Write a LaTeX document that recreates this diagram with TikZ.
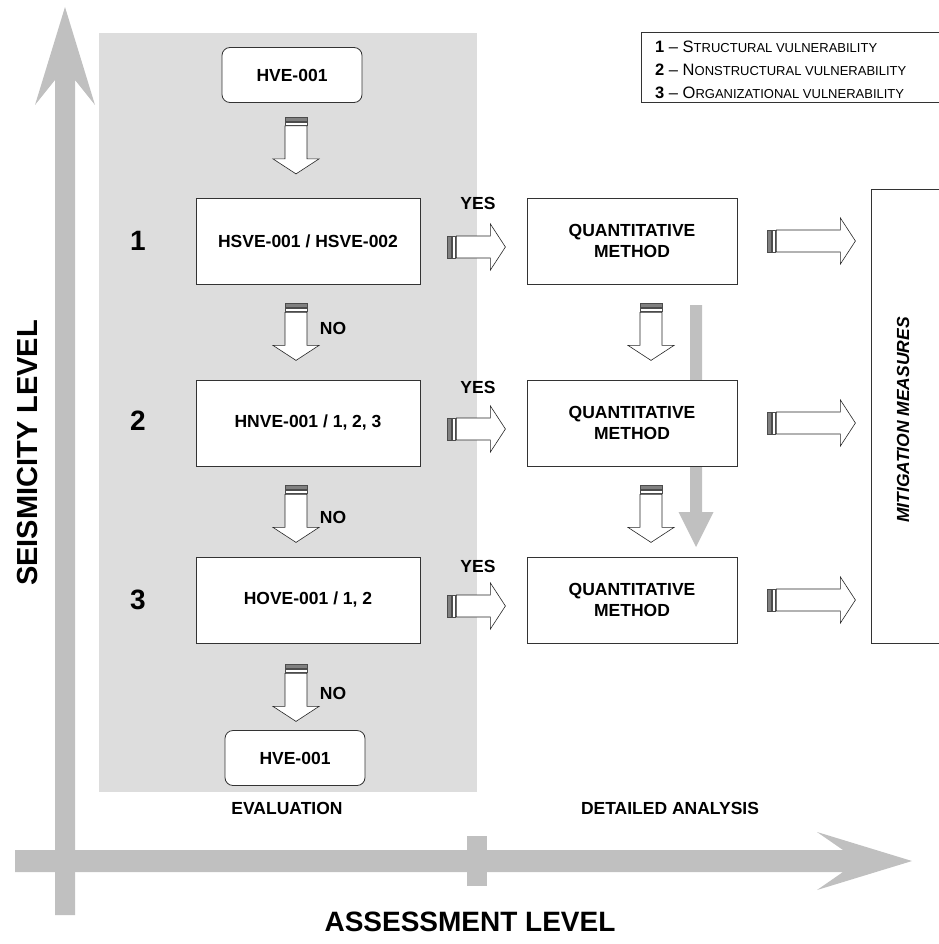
\documentclass[tikz,border=0pt]{standalone}
\usepackage{fontspec}
\setmainfont{Liberation Sans}
\usetikzlibrary{calc}
\definecolor{axisgray}{HTML}{C0C0C0}
\definecolor{bandgray}{HTML}{DDDDDD}
\definecolor{stripegray}{HTML}{808080}
\newcommand{\bigsmall}[2]{{\fontsize{16.5}{18}\selectfont #1}{\fontsize{13}{18}\selectfont #2}}
\tikzset{
  box/.style={draw=black!80, line width=0.8pt, fill=white, minimum width=224pt, minimum height=86pt,
    align=center, font=\fontsize{17.5}{21}\selectfont\bfseries, inner sep=0pt},
  rbox/.style={box, rounded corners=8pt, minimum width=140pt, minimum height=55pt},
  lbl/.style={font=\fontsize{17.5}{21}\selectfont\bfseries, inner sep=0pt},
  biglbl/.style={font=\fontsize{28}{32}\selectfont\bfseries, inner sep=0pt},
  legtext/.style={anchor=west, inner sep=0pt, font=\fontsize{16.5}{18}\selectfont},
  pics/blockarrow/.style={code={
     \filldraw[fill=stripegray, draw=black!70, line width=0.4pt] (0,-11) rectangle (4,11);
     \filldraw[fill=white, draw=black!70, line width=0.4pt] (5,-11) rectangle (8,11);
     \filldraw[fill=white, draw=black!85, line width=0.6pt]
        (9,-11) -- (#1-15,-11) -- (#1-15,-23) -- (#1,0) -- (#1-15,23) -- (#1-15,11) -- (9,11) -- cycle;
  }},
}
\begin{document}
\begin{tikzpicture}[x=1pt,y=-1pt]
\useasboundingbox (0,0) rectangle (938,944);
% shaded evaluation band
\fill[bandgray] (99,33) rectangle (477,792);
% axes
\fill[axisgray] (55,915) -- (55,80) -- (35,105) -- (65,7) -- (95,105) -- (75,80) -- (75,915) -- cycle;
\fill[axisgray] (15,850) -- (843,850) -- (817,832) -- (912,861) -- (817,890) -- (843,872) -- (15,872) -- cycle;
\fill[axisgray] (467,836) rectangle (487,886);
% grey arrow between quantitative boxes
\fill[axisgray] (690,305) -- (702,305) -- (702,512) -- (713.5,512) -- (696,547) -- (678.5,512) -- (690,512) -- cycle;

% nodes
\node[rbox] (hve1) at (292,75) {HVE-001};
\node[box] (b1) at (308,241) {HSVE-001 / HSVE-002};
\node[box] (b2) at (308,423) {HNVE-001 / 1, 2, 3};
\node[box] (b3) at (308,600) {HOVE-001 / 1, 2};
\node[rbox] (hve2) at (295,758) {HVE-001};

\node[box, minimum width=210pt] (q1) at (632,241) {QUANTITATIVE\\METHOD};
\node[box, minimum width=210pt] (q2) at (632,423) {QUANTITATIVE\\METHOD};
\node[box, minimum width=210pt] (q3) at (632,600) {QUANTITATIVE\\METHOD};

\node[draw=black!80, line width=0.8pt, fill=white, minimum width=80pt, minimum height=454pt, anchor=north west, inner sep=0pt] (mit) at (871,189) {};
\node[lbl, font=\fontsize{17.5}{21}\selectfont\bfseries\itshape, rotate=90] (mittext) at (903,420) {MITIGATION MEASURES};

% legend
\node[draw=black!80, line width=0.8pt, minimum width=300pt, minimum height=70pt, anchor=north west, inner sep=0pt] (leg) at (641,32) {};
\node[legtext] (l1) at (655,47) {\textbf{1} -- \bigsmall{S}{TRUCTURAL VULNERABILITY}};
\node[legtext] (l2) at (655,70) {\textbf{2} -- \bigsmall{N}{ONSTRUCTURAL VULNERABILITY}};
\node[legtext] (l3) at (655,93) {\textbf{3} -- \bigsmall{O}{RGANIZATIONAL VULNERABILITY}};

% level numbers
\node[biglbl] (n1) at (138,241) {1};
\node[biglbl] (n2) at (138,421) {2};
\node[biglbl] (n3) at (138,600) {3};

% labels
\node[lbl] (yes1) at (478,203) {YES};
\node[lbl] (yes2) at (478,387) {YES};
\node[lbl] (yes3) at (478,566) {YES};
\node[lbl] (no1) at (333,328) {NO};
\node[lbl] (no2) at (333,517) {NO};
\node[lbl] (no3) at (333,693) {NO};
\node[lbl] (eval) at (287,808) {EVALUATION};
\node[lbl] (det) at (670,808) {DETAILED ANALYSIS};
\node[biglbl, font=\fontsize{29}{32}\selectfont\bfseries, rotate=90] (ylab) at (28,453) {SEISMICITY LEVEL};
\node[biglbl] (xlab) at (470,922) {ASSESSMENT LEVEL};

% block arrows: evaluation column (down)
\pic[rotate=-90] at ($(hve1.south)+(4,14)$) {blockarrow=57};
\pic[rotate=-90] at ($(b1.south)+(-12,19)$) {blockarrow=57};
\pic[rotate=-90] at ($(b2.south)+(-12,19)$) {blockarrow=57};
\pic[rotate=-90] at ($(b3.south)+(-12,21)$) {blockarrow=57};
% quantitative column (down)
\pic[rotate=-90] at ($(q1.south)+(19,19)$) {blockarrow=57};
\pic[rotate=-90] at ($(q2.south)+(19,19)$) {blockarrow=57};
% yes arrows
\pic at ($(b1.east)+(27,6)$) {blockarrow=58};
\pic at ($(b2.east)+(27,6)$) {blockarrow=58};
\pic at ($(b3.east)+(27,6)$) {blockarrow=58};
% to mitigation
\pic at ($(q1.east)+(30,0)$) {blockarrow=88};
\pic at ($(q2.east)+(30,0)$) {blockarrow=88};
\pic at ($(q3.east)+(30,0)$) {blockarrow=88};
\end{tikzpicture}
\end{document}
